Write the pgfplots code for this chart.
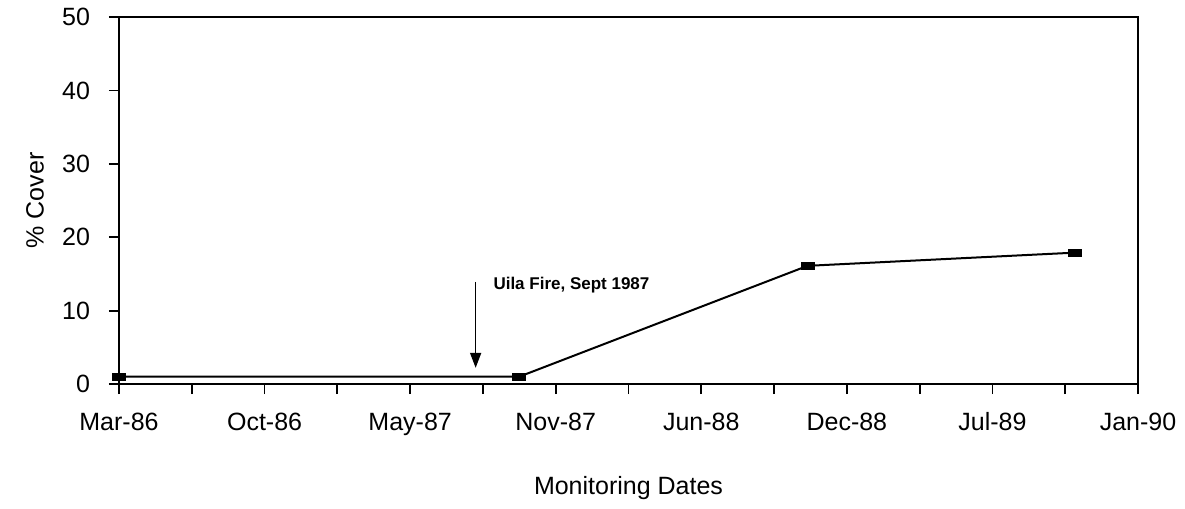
\documentclass[border=0pt]{standalone}
\usepackage{fontspec}
\setmainfont{Liberation Sans}
\usepackage{pgfplots}
\pgfplotsset{compat=1.18}
\usetikzlibrary{arrows.meta}
\begin{document}
\begin{tikzpicture}
\useasboundingbox (-59.5pt,-62.5pt) rectangle (533pt,192pt);
\begin{axis}[
  at={(0,0)}, anchor=south west,
  scale only axis, width=509.5pt, height=183.5pt,
  xmin=0, xmax=7, ymin=0, ymax=50,
  xtick={0,0.5,...,7},
  xticklabels={Mar-86,,Oct-86,,May-87,,Nov-87,,Jun-88,,Dec-88,,Jul-89,,Jan-90},
  ytick={0,10,...,50},
  xtick pos=bottom, ytick pos=left,
  tick align=outside,
  major tick length=5pt,
  tick style={line width=0.9pt, black},
  axis line style={line width=1pt},
  font=\fontsize{12.5}{14}\selectfont,
  ticklabel style={font=\fontsize{12.5}{14}\selectfont},
  /pgf/number format/assume math mode=true,
  xticklabel style={text height=9.8pt, text depth=4.2pt, yshift=-5pt},
  yticklabel style={xshift=-6pt},
  xlabel={Monitoring Dates},
  ylabel={\% Cover},
  every axis x label/.style={at={(axis description cs:0.5,-0.283)}, anchor=center},
  every axis y label/.style={at={(axis description cs:-0.0824,0.5)}, rotate=90, anchor=center},
  clip=false,
]
\addplot[black, line width=1pt, mark=square*, mark size=1.5pt, mark options={xscale=2}]
  coordinates {(0,1.0) (2.75,1.0) (4.73,16.1) (6.57,17.9)};
\draw[line width=0.8pt, -{Triangle[width=5.5pt,length=7.5pt]}] (axis cs:2.45,13.9) -- (axis cs:2.45,2.2);
\node[anchor=west, inner sep=0pt, font=\fontsize{8.5}{10}\selectfont\bfseries] at (axis cs:2.57,13.5) {Uila Fire, Sept 1987};
\end{axis}
\end{tikzpicture}
\end{document}
